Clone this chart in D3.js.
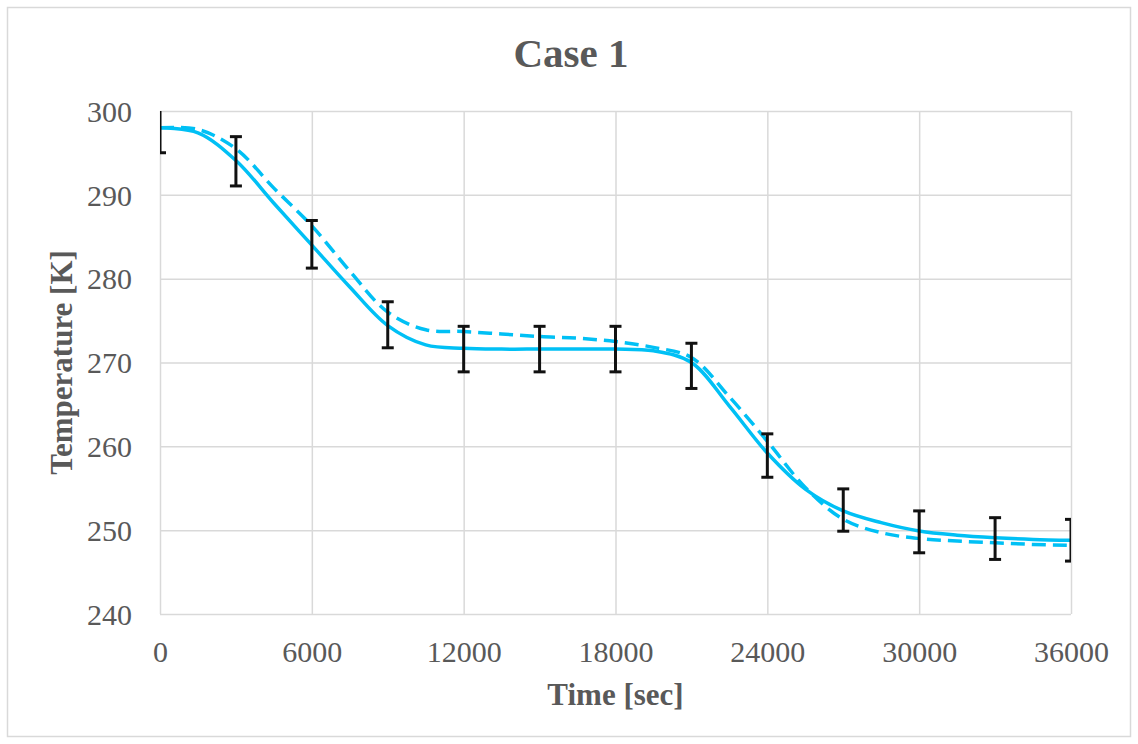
<!DOCTYPE html>
<html>
<head>
<meta charset="utf-8">
<script src="https://cdn.jsdelivr.net/npm/d3@7"></script>
<style>
  body { margin: 0; background: #fff; }
  svg { display: block; }
  text { font-family: "Liberation Serif", "Times New Roman", serif; fill: #595959; }
</style>
</head>
<body>
<svg id="chart" width="1138" height="744"></svg>
<script>
// time axis ticks (sec) and temperature ticks (K)
const xTicks = [0, 6000, 12000, 18000, 24000, 30000, 36000]
const yTicks = [240, 250, 260, 270, 280, 290, 300]

// solid curve
const solidTime = [0, 1500, 3000, 4500, 6000, 7500, 9000, 10500, 12000, 13500, 15000, 16500, 18000,
  19500, 21000, 22500, 24000, 25500, 27000, 28500, 30000, 31500, 33000, 34500, 36000]
const solidTemp = [298.0, 297.4, 294.1, 289.0, 284.0, 279.0, 274.4, 272.1, 271.7, 271.6, 271.6, 271.6, 271.6,
  271.4, 270.0, 264.8, 259.2, 254.9, 252.3, 250.9, 249.9, 249.4, 249.1, 248.9, 248.8]

// dashed curve
const dashTime = solidTime
const dashTemp = [298.0, 297.8, 295.5, 290.8, 286.3, 280.9, 276.0, 273.9, 273.7, 273.4, 273.1, 272.9, 272.5,
  271.8, 270.6, 265.9, 260.6, 255.1, 251.3, 249.7, 249.0, 248.7, 248.5, 248.3, 248.2]

// error bar points, +/- 1 % of value
const errTime = [0, 3000, 6000, 9000, 12000, 15000, 18000, 21000, 24000, 27000, 30000, 33000, 36000]
const errTemp = [298.0, 294.0, 284.1, 274.5, 271.6, 271.6, 271.6, 269.6, 258.9, 252.4, 249.8, 249.0, 248.8]
const errPct = 1

const W = 1138, H = 744
const plot = { left: 160, right: 1071, top: 111, bottom: 614 }
const lineColor = "#00c0f5"
const gridColor = "#d9d9d9"

const svg = d3.select("#chart")

// outer chart border
svg.append("rect")
  .attr("x", 7.5).attr("y", 7.5).attr("width", W - 15).attr("height", H - 15)
  .attr("fill", "#fff").attr("stroke", gridColor).attr("stroke-width", 1.5)

const x = d3.scaleLinear().domain([0, 36000]).range([plot.left, plot.right])
const y = d3.scaleLinear().domain([240, 300]).range([plot.bottom, plot.top])

svg.append("defs").append("clipPath").attr("id", "plotclip")
  .append("rect")
  .attr("x", plot.left).attr("y", plot.top)
  .attr("width", plot.right - plot.left).attr("height", plot.bottom - plot.top)

// gridlines
svg.append("g").attr("class", "grid x-grid")
  .attr("transform", `translate(0, ${plot.bottom})`)
  .call(d3.axisBottom(x).tickValues(xTicks).tickSize(-(plot.bottom - plot.top)).tickFormat(""))
  .call(g => g.select(".domain").remove())
  .selectAll("line").attr("stroke", gridColor).attr("stroke-width", 1.5)

svg.append("g").attr("class", "grid y-grid")
  .attr("transform", `translate(${plot.left}, 0)`)
  .call(d3.axisLeft(y).tickValues(yTicks).tickSize(-(plot.right - plot.left)).tickFormat(""))
  .call(g => g.select(".domain").remove())
  .selectAll("line").attr("stroke", gridColor).attr("stroke-width", 1.5)

// tick labels
svg.append("g").attr("class", "x-axis")
  .attr("transform", `translate(0, ${plot.bottom})`)
  .call(d3.axisBottom(x).tickValues(xTicks).tickSize(0).tickPadding(0).tickFormat(d3.format("d")))
  .call(g => g.select(".domain").remove())
  .selectAll("text")
  .attr("y", 48).attr("dy", null)
  .style("font-size", "30px").attr("fill", "#595959")

svg.append("g").attr("class", "y-axis")
  .attr("transform", `translate(${plot.left}, 0)`)
  .call(d3.axisLeft(y).tickValues(yTicks).tickSize(0).tickPadding(28).tickFormat(d3.format("d")))
  .call(g => g.select(".domain").remove())
  .selectAll("text")
  .attr("dy", "0.34em")
  .style("font-size", "30px").attr("fill", "#595959")

svg.selectAll(".x-axis, .y-axis").attr("font-family", null).attr("font-size", null)

const chartArea = svg.append("g").attr("clip-path", "url(#plotclip)")

const line = d3.line()
  .x(d => x(d[0]))
  .y(d => y(d[1]))
  .curve(d3.curveCatmullRom.alpha(0.5))

chartArea.append("path")
  .datum(dashTime.map((t, i) => [t, dashTemp[i]]))
  .attr("d", line)
  .attr("fill", "none").attr("stroke", lineColor).attr("stroke-width", 3.5)
  .attr("stroke-dasharray", "14,7")

chartArea.append("path")
  .datum(solidTime.map((t, i) => [t, solidTemp[i]]))
  .attr("d", line)
  .attr("fill", "none").attr("stroke", lineColor).attr("stroke-width", 3.5)

// error bars
const errData = errTime.map((t, i) => ({ t: t, v: errTemp[i], e: errTemp[i] * errPct / 100 }))
const bars = chartArea.append("g").attr("class", "err")
  .selectAll("g").data(errData).join("g")
  .attr("stroke", "#111").attr("stroke-width", 3).attr("fill", "none")

bars.append("line")
  .attr("x1", d => x(d.t)).attr("x2", d => x(d.t))
  .attr("y1", d => y(d.v + d.e)).attr("y2", d => y(d.v - d.e))
bars.append("line")
  .attr("x1", d => x(d.t) - 6).attr("x2", d => x(d.t) + 6)
  .attr("y1", d => y(d.v + d.e)).attr("y2", d => y(d.v + d.e))
bars.append("line")
  .attr("x1", d => x(d.t) - 6).attr("x2", d => x(d.t) + 6)
  .attr("y1", d => y(d.v - d.e)).attr("y2", d => y(d.v - d.e))

// titles
svg.append("text")
  .attr("x", 571).attr("y", 67)
  .attr("text-anchor", "middle")
  .style("font-size", "41px").style("font-weight", "bold")
  .text("Case 1")

svg.append("text")
  .attr("x", (plot.left + plot.right) / 2).attr("y", 705)
  .attr("text-anchor", "middle")
  .style("font-size", "31px").style("font-weight", "bold")
  .text("Time [sec]")

svg.append("text")
  .attr("transform", `translate(72, ${(plot.top + plot.bottom) / 2}) rotate(-90)`)
  .attr("text-anchor", "middle")
  .style("font-size", "31px").style("font-weight", "bold")
  .text("Temperature [K]")
</script>
</body>
</html>
